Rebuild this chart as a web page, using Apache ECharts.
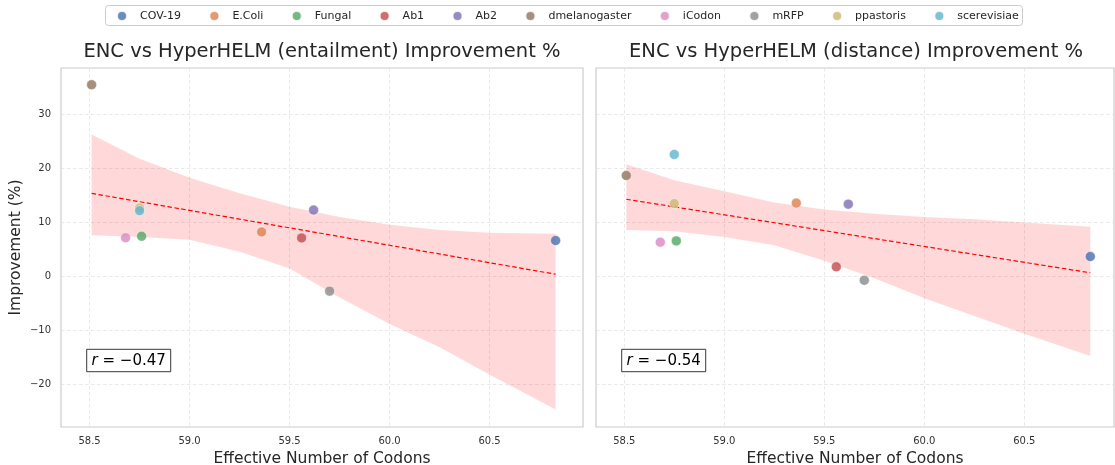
<!DOCTYPE html>
<html>
<head>
<meta charset="utf-8">
<script src="https://cdn.jsdelivr.net/npm/echarts@6/dist/echarts.min.js"></script>
<style>html,body{margin:0;padding:0;background:#fff;}#c{width:1115px;height:465px;}</style>
</head>
<body>
<div id="c"></div>
<script>
// ---- data ----
const names = ['COV-19','E.Coli','Fungal','Ab1','Ab2','dmelanogaster','iCodon','mRFP','ppastoris','scerevisiae'];
const enc = [60.83, 59.36, 58.76, 59.56, 59.62, 58.51, 58.68, 59.70, 58.75, 58.75];
const entailment = [6.66, 8.26, 7.46, 7.15, 12.3, 35.5, 7.2, -2.7, 12.7, 12.2];
const distance = [3.7, 13.6, 6.6, 1.8, 13.4, 18.7, 6.35, -0.7, 13.5, 22.6];
const colors = ['#4C72B0','#DD8452','#55A868','#C44E52','#8172B3','#937860','#DA8BC3','#8C8C8C','#CCB974','#64B5CD'];

const bandX = [58.51, 58.75, 59.0, 59.25, 59.5, 59.75, 60.0, 60.25, 60.5, 60.83];
const entUpper = [26.3, 21.8, 18.3, 15.4, 12.9, 11.0, 9.6, 8.6, 8.1, 7.9];
const entLower = [7.65, 7.3, 6.8, 4.6, 1.5, -3.9, -8.8, -13.1, -18.2, -24.6];
const disUpper = [20.8, 17.8, 15.8, 13.7, 12.4, 11.6, 11.0, 10.6, 10.0, 9.2];
const disLower = [8.6, 8.4, 7.3, 5.8, 2.9, -0.3, -4.0, -7.3, -10.6, -14.7];

const fitX = [58.51, 60.83];
const entFit = [15.4, 0.43];
const disFit = [14.3, 0.7];

const xTicks = [58.5, 59.0, 59.5, 60.0, 60.5];
const yTicks = [-20, -10, 0, 10, 20, 30];
const titles = ['ENC vs HyperHELM (entailment) Improvement %', 'ENC vs HyperHELM (distance) Improvement %'];
const rTexts = ['\u22120.47', '\u22120.54'];

// ---- chart ----
const FONT = 'DejaVu Sans';
const chart = echarts.init(document.getElementById('c'), null, {renderer:'canvas'});

const gridLine = {show:true, lineStyle:{color:'#e3e3e3', width:0.8, type:[3.5,2.5]}};
function xAxis(i, mn, mx){
  return {type:'value', gridIndex:i, min:mn, max:mx,
    axisLine:{show:false}, axisTick:{show:false, customValues:xTicks},
    axisLabel:{customValues:xTicks, margin:9, color:'#333', fontFamily:FONT, fontSize:10,
      formatter:v=>v.toFixed(1)},
    splitLine:gridLine,
    name:'Effective Number of Codons', nameLocation:'middle', nameGap:22,
    nameTextStyle:{fontFamily:FONT, fontSize:15.5, color:'#262626'}};
}
function yAxis(i, showLabel){
  const a = {type:'value', gridIndex:i, min:-27.85, max:38.6,
    axisLine:{show:false}, axisTick:{show:false, customValues:yTicks},
    axisLabel:{show:showLabel, customValues:yTicks, margin:10, color:'#333', fontFamily:FONT, fontSize:10,
      formatter:v=> v<0 ? '\u2212'+Math.abs(v) : String(v)},
    splitLine:gridLine};
  if (showLabel){
    a.name='Improvement (%)'; a.nameLocation='middle'; a.nameGap=37;
    a.nameTextStyle={fontFamily:FONT, fontSize:15.5, color:'#262626'};
  }
  return a;
}
function band(i, up, lo){
  return {type:'custom', xAxisIndex:i, yAxisIndex:i, silent:true, z:1,
    data: bandX.map((x,k)=>[x, up[k], lo[k]]),
    encode:{x:0, y:[1,2]},
    renderItem:(params, api)=>{
      if (params.dataIndex !== 0) return null;
      const pts = [];
      for (let k=0;k<bandX.length;k++) pts.push(api.coord([bandX[k], up[k]]));
      for (let k=bandX.length-1;k>=0;k--) pts.push(api.coord([bandX[k], lo[k]]));
      return {type:'polygon', shape:{points:pts}, style:{fill:'rgba(255,0,0,0.15)'}};
    }};
}
function fit(i, ys){
  return {type:'line', xAxisIndex:i, yAxisIndex:i, silent:true, z:3, symbol:'none',
    data: fitX.map((x,k)=>[x, ys[k]]),
    lineStyle:{color:'#ff0000', width:1.2, type:[4.5,2.5]}};
}
const series = [band(0, entUpper, entLower), band(1, disUpper, disLower), fit(0, entFit), fit(1, disFit)];
[entailment, distance].forEach((vals, gi)=>{
  names.forEach((n, k)=>{
    series.push({type:'scatter', name:n, xAxisIndex:gi, yAxisIndex:gi, z:4,
      symbolSize:10, data:[[enc[k], vals[k]]],
      itemStyle:{color:colors[k], opacity:0.82, borderColor:'#ffffff', borderWidth:0.6}});
  });
});

function rBox(cx, txt){
  return {type:'group', children:[
    {type:'rect', shape:{x:cx-42, y:349.3, width:84, height:22.4}, style:{fill:'#fff', stroke:'#222', lineWidth:0.9}, z:10},
    {type:'text', x:cx, y:360.8, z:11, style:{text:'{i|r} = '+txt, align:'center', verticalAlign:'middle',
      fontFamily:FONT, fontSize:15, fill:'#000',
      rich:{i:{fontStyle:'italic', fontFamily:FONT, fontSize:15, fill:'#000'}}}}
  ]};
}

chart.setOption({
  backgroundColor:'#fff',
  animation:false,
  grid:[
    {left:61, top:68, width:522, height:359, show:true, borderColor:'#cccccc', borderWidth:1.2, backgroundColor:'transparent', containLabel:false, outerBoundsMode:'none'},
    {left:596, top:68, width:518, height:359, show:true, borderColor:'#cccccc', borderWidth:1.2, backgroundColor:'transparent', containLabel:false, outerBoundsMode:'none'}
  ],
  xAxis:[xAxis(0, 58.357, 60.967), xAxis(1, 58.3585, 60.9485)],
  yAxis:[yAxis(0, true), yAxis(1, false)],
  legend:{data:names, left:116, top:10, padding:0, itemGap:27.4, itemWidth:10, itemHeight:10, icon:'circle',
    textStyle:{fontFamily:FONT, fontSize:11, color:'#262626', padding:[0,0,0,8]}},
  graphic:[
    {type:'rect', shape:{x:105.5, y:5.5, width:917, height:20, r:3}, style:{fill:'none', stroke:'#cccccc', lineWidth:1}, silent:true},
    {type:'text', x:322, y:51.5, style:{text:titles[0], align:'center', verticalAlign:'middle', fontFamily:FONT, fontSize:19.5, fill:'#262626'}},
    {type:'text', x:856, y:51.5, style:{text:titles[1], align:'center', verticalAlign:'middle', fontFamily:FONT, fontSize:19.5, fill:'#262626'}},
    rBox(128.7, rTexts[0]),
    rBox(663.7, rTexts[1])
  ],
  series
});
</script>
</body>
</html>
